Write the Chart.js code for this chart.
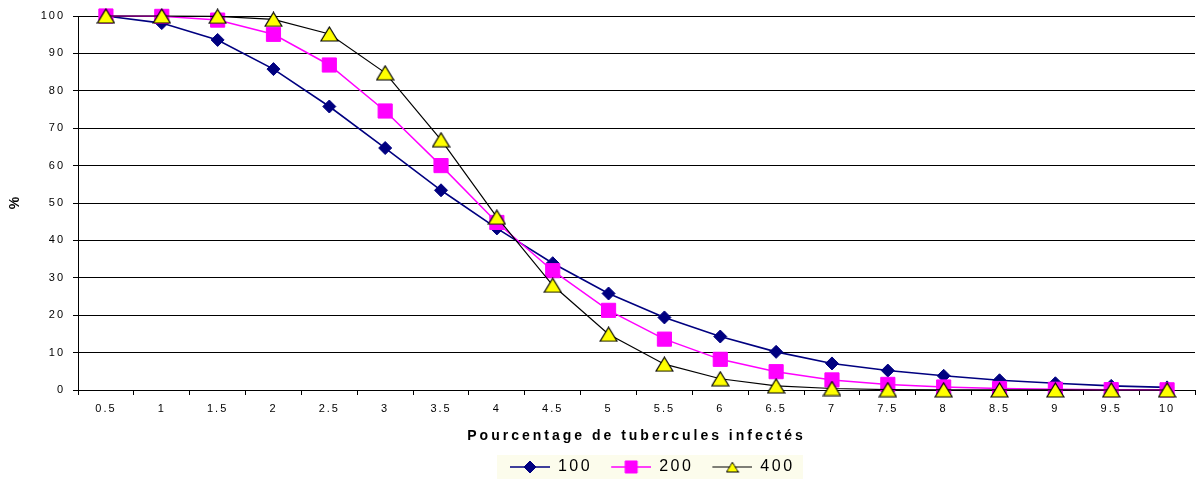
<!DOCTYPE html>
<html>
<head>
<meta charset="utf-8">
<script src="https://cdn.jsdelivr.net/npm/chart.js@4/dist/chart.umd.min.js"></script>
<style>
    html, body { margin: 0; padding: 0; background: #fff; overflow: hidden; }
    #contenedor { width: 1202px; height: 479px; overflow: hidden; }
</style>
</head>
<body>
<div id="contenedor"><canvas id="myChart" width="1206" height="485"></canvas></div>
<script>
// categorias del eje x (porcentaje de tuberculos infectados)
const categorias = ["0.5", "1", "1.5", "2", "2.5", "3", "3.5", "4", "4.5", "5",
    "5.5", "6", "6.5", "7", "7.5", "8", "8.5", "9", "9.5", "10"]

// nombres de las series
const nombres = ["100", "200", "400"]

// valores
const valores100 = [100, 98.1, 93.6, 85.8, 75.8, 64.7, 53.4, 43.2, 33.9, 25.8,
    19.4, 14.3, 10.2, 7.1, 5.2, 3.8, 2.6, 1.8, 1.1, 0.7]
const valores200 = [100, 99.9, 98.9, 95.1, 86.9, 74.6, 60.0, 44.8, 31.9, 21.3,
    13.6, 8.2, 4.9, 2.7, 1.5, 0.8, 0.4, 0.2, 0.1, 0.05]
const valores400 = [100, 100, 99.9, 99.1, 95.2, 84.8, 66.9, 46.2, 28.0, 14.9,
    6.9, 3.0, 1.1, 0.4, 0.1, 0.05, 0.02, 0.01, 0, 0]

// limites del eje y
const minY = 0
const maxY = 100
const pasoY = 10

const fuente = "'Liberation Sans', Arial, sans-serif"

// icono de la leyenda: linea con el marcador en medio
function crearIcono(colorLinea, anchoLinea, estilo, radio, relleno, borde) {
    const c = document.createElement("canvas")
    c.width = 49
    c.height = 16
    const ctx = c.getContext("2d")
    ctx.strokeStyle = colorLinea
    ctx.lineWidth = anchoLinea
    ctx.beginPath()
    ctx.moveTo(9, 8)
    ctx.lineTo(49, 8)
    ctx.stroke()
    ctx.fillStyle = relleno
    ctx.strokeStyle = borde
    ctx.lineWidth = 1
    if (estilo instanceof HTMLCanvasElement) {
        ctx.drawImage(estilo, 29 - 6.5, 8 - 5.5, 13, 11)
    } else {
        Chart.helpers.drawPoint(ctx, { pointStyle: estilo, radius: radio, rotation: 0, borderWidth: 1 }, 29, 8)
    }
    return c
}

// triangulo amarillo centrado en su caja (como en Excel)
function crearTriangulo() {
    const c = document.createElement("canvas")
    c.width = 19
    c.height = 16
    const ctx = c.getContext("2d")
    ctx.fillStyle = "#FFFF00"
    ctx.strokeStyle = "#000000"
    ctx.lineWidth = 1.2
    ctx.beginPath()
    ctx.moveTo(9.5, 1)
    ctx.lineTo(18, 15)
    ctx.lineTo(1, 15)
    ctx.closePath()
    ctx.fill()
    ctx.stroke()
    return c
}

const triangulo = crearTriangulo()

const iconos = [
    crearIcono("#000080", 1.5, "rectRot", 6, "#000080", "#000080"),
    crearIcono("#FF00FF", 1.5, "rect", 8.5, "#FF00FF", "#FF00FF"),
    crearIcono("#000000", 1, triangulo, 0, "#FFFF00", "#000000")
]

// envuelve un metodo para dibujar con otro espaciado de letras
function conEspaciado(obj, metodo, valor) {
    if (!obj || !obj[metodo] || obj[metodo]._envuelto) return
    const original = obj[metodo]
    const nuevo = function (...args) {
        const ctx = obj.ctx
        const antes = ctx.letterSpacing
        ctx.letterSpacing = valor
        const r = original.apply(obj, args)
        ctx.letterSpacing = antes
        return r
    }
    nuevo._envuelto = true
    obj[metodo] = nuevo
}

const estiloTexto = {
    id: "estiloTexto",
    beforeUpdate(chart) {
        chart.ctx.letterSpacing = "2px"
        conEspaciado(chart.legend, "fit", "2.5px")
        conEspaciado(chart.legend, "draw", "2.5px")
    },
    afterUpdate(chart) {
        // mover la leyenda para que quede centrada como en el original
        const leyenda = chart.legend
        const cajas = leyenda.legendHitBoxes
        if (!cajas || !cajas.length) return
        const ultima = cajas[cajas.length - 1]
        const izq = cajas[0].left + 9
        const der = ultima.left + ultima.width - 2.5
        const dx = 651 - (izq + der) / 2
        leyenda.left += dx
        leyenda.right += dx
        // adjustHitBoxes suma el top otra vez, se quita antes
        const relleno = leyenda.options.labels.padding
        cajas.forEach(c => { c.top -= leyenda.top + relleno })
        leyenda.adjustHitBoxes()
    },
    beforeDraw(chart) {
        const ctx = chart.ctx
        ctx.letterSpacing = "2px"
        conEspaciado(chart.scales.x, "drawTitle", "3px")
        conEspaciado(chart.scales.y, "drawTitle", "0px")
        // fondo de la leyenda
        const leyenda = chart.legend
        const cajas = leyenda.legendHitBoxes
        if (!cajas || !cajas.length) return
        const ultima = cajas[cajas.length - 1]
        const izq = cajas[0].left + 9 - 13
        const der = ultima.left + ultima.width - 2.5 + 11
        const arriba = leyenda.top + leyenda.options.labels.padding
        ctx.save()
        ctx.letterSpacing = "0px"
        ctx.fillStyle = "#FCFCEC"
        ctx.fillRect(izq, arriba - 4, der - izq, cajas[0].height + 10)
        ctx.restore()
    }
}

function cargarGrafica() {
    const grafica = document.getElementById("myChart").getContext("2d")

    const myChart = new Chart(grafica, {
        type: "line",
        data: {
            labels: categorias,
            datasets: [
                {
                    label: nombres[0],
                    data: valores100,
                    borderColor: "#000080",
                    backgroundColor: "#000080",
                    borderWidth: 1.6,
                    pointStyle: "rectRot",
                    pointRadius: 6.5,
                    pointBorderWidth: 1,
                    pointBorderColor: "#000080",
                    pointBackgroundColor: "#000080",
                    tension: 0,
                    clip: false,
                    order: 2
                },
                {
                    label: nombres[1],
                    data: valores200,
                    borderColor: "#FF00FF",
                    backgroundColor: "#FF00FF",
                    borderWidth: 1.5,
                    pointStyle: "rect",
                    pointRadius: 10,
                    pointBorderWidth: 1,
                    pointBorderColor: "#FF00FF",
                    pointBackgroundColor: "#FF00FF",
                    tension: 0,
                    clip: false,
                    order: 1
                },
                {
                    label: nombres[2],
                    data: valores400,
                    borderColor: "#000000",
                    backgroundColor: "#FFFF00",
                    borderWidth: 1.2,
                    pointStyle: triangulo,
                    pointRadius: 9.5,
                    pointBorderWidth: 1,
                    pointBorderColor: "#000000",
                    pointBackgroundColor: "#FFFF00",
                    tension: 0,
                    clip: false,
                    order: 0
                }
            ]
        },
        options: {
            responsive: false,
            animation: false,
            events: [],
            layout: {
                padding: { top: 16, left: 0, right: 0, bottom: 0 }
            },
            plugins: {
                tooltip: { enabled: false },
                legend: {
                    position: "bottom",
                    labels: {
                        usePointStyle: true,
                        pointStyleWidth: 49,
                        padding: 10,
                        color: "#000",
                        font: { family: fuente, size: 16 },
                        generateLabels: (chart) => {
                            const items = Chart.defaults.plugins.legend.labels.generateLabels(chart)
                            items.sort((a, b) => a.datasetIndex - b.datasetIndex)
                            return items.map(item => {
                                item.pointStyle = iconos[item.datasetIndex]
                                return item
                            })
                        }
                    }
                }
            },
            scales: {
                x: {
                    offset: true,
                    grid: {
                        display: true,
                        offset: true,
                        drawOnChartArea: false,
                        drawTicks: true,
                        tickLength: 5,
                        color: "#000"
                    },
                    border: { display: true, color: "#000", width: 1 },
                    ticks: {
                        color: "#000",
                        padding: 7,
                        maxRotation: 0,
                        autoSkip: false,
                        font: { family: fuente, size: 11 }
                    },
                    title: {
                        display: true,
                        text: "Pourcentage de tubercules infectés",
                        color: "#000",
                        font: { family: fuente, size: 14, weight: "bold" },
                        padding: { top: 13, bottom: 4 }
                    },
                    afterFit: (scale) => { scale.height = 59 }
                },
                y: {
                    min: minY,
                    max: maxY,
                    grid: {
                        color: "#000",
                        lineWidth: 1,
                        drawTicks: true,
                        tickLength: 5
                    },
                    border: { display: true, color: "#000", width: 1 },
                    ticks: {
                        stepSize: pasoY,
                        color: "#000",
                        padding: 8,
                        font: { family: fuente, size: 11 }
                    },
                    title: {
                        display: true,
                        text: "%",
                        color: "#000",
                        font: { family: fuente, size: 14, weight: "bold" },
                        padding: { top: 7, bottom: 10 }
                    },
                    afterFit: (scale) => { scale.width = 78 }
                }
            }
        },
        plugins: [estiloTexto]
    })
}

cargarGrafica()
</script>
</body>
</html>
